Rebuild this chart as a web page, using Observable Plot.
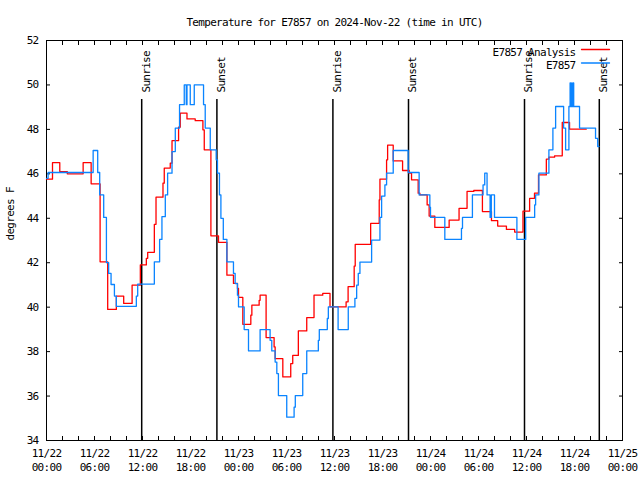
<!DOCTYPE html>
<html><head><meta charset="utf-8">
<script src="https://cdn.jsdelivr.net/npm/d3@7"></script>
<script src="https://cdn.jsdelivr.net/npm/@observablehq/plot@0.6"></script>
<style>
body{margin:0;background:#fff}
svg{font-family:"DejaVu Sans Mono",monospace;font-size:11px;letter-spacing:-0.7px}
</style></head><body><div id="chart"></div>
<script>
// hours after 2024-11-22 00:00 UTC where each step starts
const analysisHours = [0,0.75,1.66,2.6,4.58,5.58,6.7,7.65,8.73,9.65,10.7,11.73,12.48,12.65,13.48,13.69,14.56,14.72,15.47,15.69,16.51,16.72,17.56,18.59,19.55,19.72,20.55,21.5,22.55,23.37,23.87,24.0,24.54,25.54,25.67,26.58,26.7,27.45,28.45,28.58,29.54,30.53,30.78,31.48,32.53,33.44,34.53,35.44,37.45,37.7,38.46,38.59,40.52,41.59,41.68,42.51,42.64,43.34,44.51,45.33,45.63,46.46,46.67,47.58,47.83,48.54,50.33,51.57,52.57,53.41,54.49,55.62,56.4,57.49,58.52,59.56,60.39,61.0,61.5,62.48,62.8,63.51,64.47,65.38,67.46];
const analysisTemps = [45.76,46.5,46.1,46.0,46.5,45.55,42.04,39.9,40.5,40.17,40.99,41.9,42.2,42.47,43.73,44.95,45.58,46.26,46.48,47.49,48.1,48.73,48.47,48.39,47.98,47.08,43.21,42.92,41.44,41.07,40.84,40.44,39.23,39.64,40.09,40.31,40.54,38.63,38.21,37.68,36.86,37.46,37.83,38.93,39.53,40.54,40.62,40.01,40.24,40.92,41.85,42.83,43.77,44.83,45.76,46.63,47.29,46.58,46.15,46.03,45.73,45.13,45.05,44.6,44.1,43.59,43.92,44.45,45.21,45.25,44.3,43.89,43.65,43.5,43.38,44.32,44.9,45.13,45.95,46.66,46.75,46.81,48.31,48.01,48.01];

const obsHours = [0,0.2,5.83,6.4,6.65,7.15,7.49,7.77,8.07,8.49,8.73,11.23,11.4,13.48,14.14,14.43,14.85,15.14,15.69,16.1,16.63,17.22,17.47,17.56,17.97,18.47,19.63,19.84,20.47,21.21,21.37,21.62,21.8,22.1,22.55,23.37,23.58,23.87,24.0,24.71,25.25,26.7,27.95,28.16,28.58,28.79,28.99,30.03,30.95,31.1,32.03,32.53,33.98,34.1,35.1,35.23,36.45,37.72,38.55,38.77,38.97,39.18,40.64,41.68,41.89,42.3,42.51,43.34,45.21,46.58,47.92,48.0,49.79,51.87,52.0,53.24,54.57,54.78,55.07,55.45,55.6,56.0,58.8,59.9,61.02,61.14,61.55,62.8,63.3,63.64,64.64,64.89,65.3,65.45,65.5,65.65,65.7,65.85,65.9,66.63,68.63,68.9,69.05];
const obsTemps = [45.8,46.06,47.05,46.06,45.05,44.04,42.0,41.52,41.02,40.5,40.04,40.5,41.04,42.04,43.05,44.07,45.05,46.03,47.0,48.06,49.11,50.0,49.11,50.0,49.11,50.0,49.11,48.06,47.08,46.63,46.03,45.05,44.0,43.05,42.04,41.52,41.06,40.54,40.01,38.99,38.03,38.99,38.51,38.03,37.53,37.01,36.02,35.05,35.5,36.02,37.01,38.03,38.51,38.99,39.49,40.01,38.99,40.01,40.4,40.99,41.52,42.03,43.02,44.04,45.0,45.5,46.03,47.05,46.06,45.05,44.5,44.04,43.05,43.55,44.04,45.05,45.5,46.03,45.05,44.04,45.05,44.04,43.05,44.04,44.6,45.05,46.03,47.08,48.06,49.03,48.06,47.08,49.03,50.09,49.03,50.09,49.03,50.09,49.03,48.06,47.6,47.23,47.23];

const eventHours = [11.9, 21.3, 35.8, 45.25, 59.75, 69.1];
const eventLabels = ["Sunrise","Sunset","Sunrise","Sunset","Sunrise","Sunset"];

const yTicks = [34,36,38,40,42,44,46,48,50,52];
const seriesNames = ["E7857 Analysis","E7857"];
const seriesColors = ["#ff0000","#0a84ff"];
const titleText = "Temperature for E7857 on 2024-Nov-22 (time in UTC)";
const yLabel = "degrees F";

const start = Date.UTC(2024,10,22);
const t = h => new Date(start + h*3600e3);
const analysis = analysisHours.map((h,i)=>({time:t(h), temp:analysisTemps[i]}));
const obs = obsHours.map((h,i)=>({time:t(h), temp:obsTemps[i]}));
const events = eventHours.map((h,i)=>({time:t(h), label:eventLabels[i]}));
const legend = seriesNames.map((n,i)=>({name:n, color:seriesColors[i], row:i}));
const majorTicks = d3.utcHour.every(6).range(t(0), t(72.01));
const minorTicks = d3.utcHour.every(2).range(t(0), t(72.01));
const fmt = d3.utcFormat("%m/%d\n%H:%M");
const lineShape = {draw(ctx, l){ ctx.moveTo(0,0); ctx.lineTo(0,-l); }};

const legendMarks = legend.map(d => [
  Plot.text([d], {text:"name", frameAnchor:"top-right", textAnchor:"end", dx:-47, dy:7.5 + d.row*13.5, fill:"#000"}),
  Plot.vector([d], {frameAnchor:"top-right", dx:-41, dy:9 + d.row*13.5, length:28, rotate:90, anchor:"start", shape:lineShape, stroke:d.color, strokeWidth:1.3})
]).flat();

const chart = Plot.plot({
  width:640, height:480,
  marginTop:40, marginBottom:40, marginLeft:46, marginRight:18,
  style:{fontFamily:"DejaVu Sans Mono, monospace", fontSize:"11px", color:"#000", background:"#fff"},
  x:{type:"utc", domain:[t(0), t(72)]},
  y:{domain:[34,52]},
  marks:[
    Plot.frame({stroke:"#000"}),
    Plot.axisX(minorTicks, {anchor:"bottom", tickSize:-4, tickFormat:()=>"", label:null}),
    Plot.axisX(minorTicks, {anchor:"top", tickSize:-4, tickFormat:()=>"", label:null}),
    Plot.axisX(majorTicks, {anchor:"bottom", tickSize:0, tickPadding:7, tickFormat:fmt, label:null, lineHeight:1.25}),
    Plot.axisY(yTicks, {anchor:"left", tickSize:-4, tickFormat:()=>"", label:null}),
    Plot.axisY(yTicks, {anchor:"right", tickSize:-4, tickFormat:()=>"", label:null}),
    Plot.axisY(yTicks, {anchor:"left", tickSize:0, tickPadding:8, label:null}),
    Plot.ruleX(events, {x:"time", insetTop:59, stroke:"#000", strokeWidth:1.5}),
    Plot.text(events, {x:"time", text:"label", frameAnchor:"top", rotate:-90, textAnchor:"start", dy:52}),
    Plot.line(analysis, {x:"time", y:"temp", curve:"step-after", stroke:seriesColors[0], strokeWidth:1.3}),
    Plot.line(obs, {x:"time", y:"temp", curve:"step-after", stroke:seriesColors[1], strokeWidth:1.3}),
    ...legendMarks,
    Plot.text([titleText], {text:d=>d, frameAnchor:"top", dy:-22}),
    Plot.text([yLabel], {text:d=>d, frameAnchor:"left", rotate:-90, dx:-36})
  ]
});
document.getElementById("chart").append(chart);
</script></body></html>
